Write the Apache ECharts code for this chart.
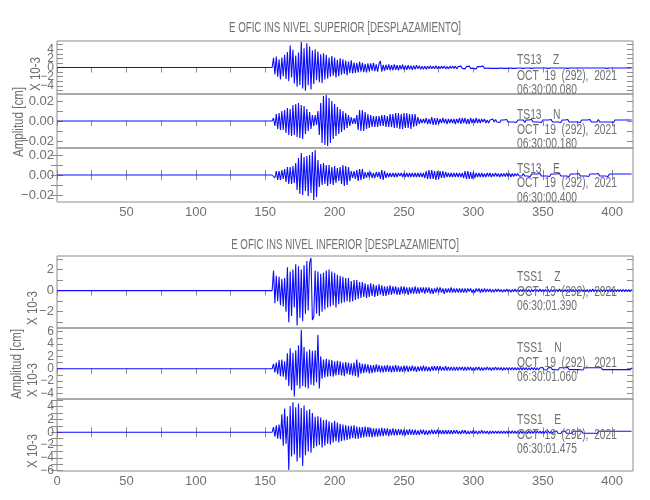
<!DOCTYPE html>
<html><head><meta charset="utf-8">
<script src="https://cdn.jsdelivr.net/npm/echarts@6/dist/echarts.min.js"></script>
<style>html,body{margin:0;padding:0;background:#fff}#c{width:650px;height:500px}</style>
</head><body><div id="c"></div>
<script>
// ---------- data ----------
const T0 = 155;          // first sample time (s); trace is flat (0) before it
const DT = 1;            // sample step (s)
const X_MIN = 0, X_MAX = 415;
const X_TICKS = [0,25,50,75,100,125,150,175,200,225,250,275,300,325,350,375,400];
const X_LABELS_UPPER = [50,100,150,200,250,300,350,400];
const X_LABELS_LOWER = [0,50,100,150,200,250,300,350,400];

const TITLES = ['E OFIC INS NIVEL SUPERIOR [DESPLAZAMIENTO]', 'E OFIC INS NIVEL INFERIOR [DESPLAZAMIENTO]'];
const STATIONS = ['TS13    Z','TS13    N','TS13    E','TSS1    Z','TSS1    N','TSS1    E'];
const DATES = ['OCT  19  (292),  2021','OCT  19  (292),  2021','OCT  19  (292),  2021','OCT  19  (292),  2021','OCT  19  (292),  2021','OCT  19  (292),  2021'];
const TIMES = ['06:30:00.080','06:30:00.180','06:30:00.400','06:30:01.390','06:30:01.060','06:30:01.475'];
const Y_UNIT_LABEL = 'X 10-3';
const Y_NAME = 'Amplitud [cm]';

// axis ranges and ticks per panel
const Y_RANGES = [[-5.8,5.8],[-0.027,0.027],[-0.027,0.027],[-3.55,3.28],[-4.9,6.6],[-6.07,5.2]];
const Y_TICKS = [
  [-5,-4,-3,-2,-1,0,1,2,3,4,5],
  [-0.02,-0.01,0,0.01,0.02],
  [-0.02,-0.01,0,0.01,0.02],
  [-3,-2,-1,0,1,2,3],
  [-4,-3,-2,-1,0,1,2,3,4,5,6],
  [-6,-5,-4,-3,-2,-1,0,1,2,3,4,5]
];
const Y_LABELS = [
  [-4,0,4],
  [-0.02,0,0.02],
  [-0.02,0,0.02],
  [-2,0,2],
  [-4,-2,0,2,4,6],
  [-6,-4,-2,0,2,4]
];
// labels of the top panel that sit between the others (drawn on an overlay axis)
const Y_LABELS_TOP_EXTRA = [-2,2];

// traces (upper Z and all lower: x10^-3 cm ; upper N, E: cm), one value per second from T0
const upperZ = [
 0,2.1,-1.5,2.4,-2.0,1.8,-2.6,2.2,-1.9,2.8,
 -2.5,3.4,-3.0,4.8,-2.2,3.9,-3.5,2.6,-4.2,3.3,
 -3.8,5.6,-4.6,4.2,-5.1,5.3,-3.9,4.6,-4.8,3.7,
 -3.6,4.0,-2.8,3.5,-3.2,2.9,-3.4,3.1,-2.6,2.8,
 -2.4,2.2,-2.0,2.5,-1.8,2.1,-2.2,1.7,-1.9,2.0,
 -1.6,1.8,-1.4,1.5,-1.7,1.3,-1.2,1.6,-1.3,1.1,
 -1.2,1.0,-1.1,1.3,-0.9,1.0,-1.0,0.8,-1.1,0.9,
 -0.8,0.9,-0.7,1.0,-0.8,0.7,-0.9,0.8,1.4,-0.9,
 0.6,-0.7,0.6,-0.5,0.7,-0.6,0.5,-0.6,0.7,-0.5,
 0.5,-0.6,0.5,-0.4,0.6,-0.5,0.4,-0.5,0.5,-0.4,
 0.4,-0.5,0.4,-0.4,0.5,-0.3,0.4,-0.4,0.3,-0.4,
 0.3,-0.4,0.3,-0.3,0.4,-0.3,0.3,-0.3,0.4,-0.3,
 0.3,-0.3,0.3,-0.2,0.3,-0.3,0.2,-0.3,0.3,-0.2,
 0.3,-0.2,0.3,-0.3,0.2,-0.2,0.3,-0.2,0.2,-0.3,
 0.2,-0.2,0.3,-0.2,0.2,-0.2,0.2,-0.3,0.2,-0.2,
 0.2,-0.2,0.3,-0.2,0.2,-0.1,0.2,-0.2,0.2,-0.2,
 0.2,-0.2,0.1,-0.2,0.2,-0.1,0.2,-0.2,0.1,-0.2,
 0.2,-0.1,0.2,-0.2,0.1,-0.2,0.2,-0.1,0.2,-0.1,
 0.1,-0.2,0.2,-0.1,0.2,-0.1,0.1,-0.2,0.1,-0.1,
 0.2,-0.1,0.1,-0.1,0.2,-0.1,0.1,-0.1,0.1,-0.2,
 0.1,-0.1,0.2,-0.1,0.1,-0.1,0.1,-0.1,0.2,-0.1,
 0.1,-0.1,0.1,-0.2,0.1,-0.1,0.1,-0.1,0.1,-0.1,
 0.2,-0.1,0.1,-0.1,0.1,-0.1,0.2,-0.1,0.1,-0.1,
 0.1,-0.1,0.1,-0.1,0.2,-0.1,0.1,-0.1,0.1,-0.1,
 0.1,-0.2,0.1,-0.1,0.1,-0.1,0.1,-0.1,0.1,-0.1,
 0.1,-0.1,0.1,-0.1,0.1,-0.1,0.1,-0.1,0.1,-0.1
];
const upperN = [
 0,0.003,-0.005,0.007,-0.008,0.008,-0.009,0.010,-0.009,0.011,
 -0.012,0.013,-0.014,0.012,-0.015,0.016,-0.014,0.017,-0.016,0.018,
 -0.017,0.016,-0.018,0.015,-0.013,0.012,-0.010,0.009,-0.008,0.006,
 -0.005,0.006,-0.004,0.010,-0.014,0.018,-0.022,0.025,-0.024,0.026,
 -0.025,0.023,-0.022,0.020,-0.018,0.017,-0.015,0.014,-0.013,0.012,
 -0.011,0.010,-0.009,0.008,-0.007,0.006,-0.005,0.004,-0.003,0.003,
 -0.003,0.006,-0.009,0.011,-0.010,0.011,-0.010,0.009,-0.008,0.007,
 -0.007,0.006,-0.006,0.005,-0.006,0.005,-0.006,0.005,-0.005,0.006,
 -0.005,0.006,-0.006,0.005,-0.006,0.007,-0.006,0.007,-0.007,0.008,
 -0.007,0.008,-0.008,0.007,-0.008,0.008,-0.007,0.008,-0.007,0.007,
 -0.008,0.007,-0.006,0.007,-0.005,0.004,-0.003,0.002,-0.002,0.002,
 -0.002,0.003,-0.003,0.002,-0.003,0.004,-0.004,0.003,-0.004,0.003,
 -0.003,0.002,-0.002,0.003,-0.002,0.002,-0.003,0.002,-0.002,0.002,
 -0.002,0.002,-0.003,0.002,-0.002,0.003,-0.003,0.003,-0.002,0.003,
 -0.003,0.002,-0.003,0.003,-0.002,0.002,-0.002,0.003,-0.002,0.002,
 -0.002,0.002,-0.001,0.002,-0.002,0.001,-0.002,0.001,-0.001,0.002,
 -0.001,0.0015,-0.001,0.001,-0.0015,0.001,-0.001,0.001,-0.001,0.0015,
 -0.001,0.001,-0.001,0.001,-0.001,0.001,-0.0015,0.001,-0.001,0.001,
 -0.001,0.001,-0.0015,0.001,-0.001,0.001,-0.001,0.0015,-0.001,0.001,
 -0.001,0.001,-0.001,0.001,-0.0015,0.001,-0.001,0.001,-0.001,0.001,
 -0.001,0.0015,-0.001,0.001,-0.001,0.001,-0.001,0.001,-0.0015,0.001,
 -0.001,0.001,-0.001,0.0015,-0.001,0.001,-0.001,0.001,-0.001,0.001,
 -0.001,0.001,-0.0015,0.001,-0.001,0.001,-0.001,0.001,-0.001,0.0015,
 -0.001,0.001,-0.001,0.001,-0.001,0.0015,-0.001,0.001,-0.001,0.001,
 -0.001,0.001,-0.001,0.001,-0.001,0.001,-0.0015,0.001,-0.001,0.001,
 -0.001,0.001,-0.001,0.001,-0.001,0.001,-0.001,0.001,-0.001,0.001
];
const upperE = [
 0,0.002,-0.003,0.004,-0.005,0.004,-0.005,0.005,-0.004,0.006,
 -0.007,0.008,-0.009,0.008,-0.009,0.009,-0.008,0.012,-0.015,0.017,
 -0.019,0.022,-0.020,0.018,-0.016,0.019,-0.021,0.020,-0.018,0.023,
 -0.025,0.025,-0.022,0.015,-0.012,0.011,-0.010,0.012,-0.009,0.010,
 -0.011,0.010,-0.009,0.008,-0.010,0.009,-0.008,0.007,-0.006,0.008,
 -0.009,0.010,-0.011,0.009,-0.010,0.008,-0.006,0.004,-0.003,0.004,
 -0.004,0.005,-0.006,0.006,-0.005,0.006,-0.004,0.003,-0.003,0.003,
 -0.002,0.003,-0.003,0.002,-0.003,0.003,-0.002,0.003,-0.004,0.005,
 -0.005,0.004,-0.003,0.002,-0.002,0.002,-0.002,0.002,-0.002,0.002,
 -0.002,0.002,-0.001,0.002,-0.002,0.002,-0.002,0.002,-0.002,0.002,
 -0.002,0.002,-0.002,0.002,-0.002,0.002,-0.002,0.002,-0.002,0.002,
 -0.003,0.004,-0.004,0.005,-0.004,0.005,-0.004,0.004,-0.005,0.004,
 -0.004,0.004,-0.003,0.004,-0.003,0.003,-0.002,0.002,-0.002,0.002,
 -0.002,0.002,-0.002,0.002,-0.002,0.002,-0.002,0.002,-0.003,0.004,
 -0.004,0.004,-0.004,0.003,-0.004,0.003,-0.003,0.002,-0.002,0.002,
 -0.002,0.002,-0.002,0.0015,-0.002,0.002,-0.0015,0.002,-0.002,0.0015,
 -0.0015,0.002,-0.0015,0.0015,-0.002,0.0015,-0.0015,0.0015,-0.0015,0.002,
 -0.0015,0.0015,-0.002,0.0015,-0.0015,0.0015,-0.001,0.0015,-0.001,0.001,
 -0.001,0.0015,-0.001,0.001,-0.001,0.001,-0.0015,0.001,-0.001,0.001,
 -0.001,0.001,-0.001,0.0015,-0.001,0.001,-0.001,0.001,-0.001,0.001,
 -0.0015,0.001,-0.001,0.001,-0.001,0.001,-0.001,0.0015,-0.001,0.001,
 -0.001,0.001,-0.001,0.001,-0.0015,0.001,-0.001,0.001,-0.001,0.001,
 -0.001,0.0015,-0.001,0.001,-0.001,0.001,-0.001,0.001,-0.0015,0.001,
 -0.001,0.001,-0.001,0.001,-0.001,0.0015,-0.001,0.001,-0.001,0.001,
 -0.001,0.001,-0.0015,0.001,-0.001,0.001,-0.001,0.001,-0.001,0.001,
 -0.001,0.001,-0.001,0.001,-0.001,0.001,-0.001,0.001,-0.001,0.001
];
const lowerZ = [
 0,1.9,-1.2,1.4,-1.0,1.3,-1.4,1.1,-1.5,1.2,
 -2.0,2.2,-3.0,1.8,-2.4,2.0,-1.6,2.5,-3.3,2.3,
 -2.6,2.0,-2.9,2.4,-2.2,2.8,-1.9,2.6,3.1,-2.8,
 -2.5,1.9,-2.2,1.8,-2.4,1.6,-2.0,1.7,-1.8,1.9,
 -1.6,2.0,-1.5,1.8,-1.4,1.7,-1.6,1.5,-1.3,1.4,
 -1.2,1.3,-1.1,1.2,-1.0,1.2,-1.1,0.9,-1.0,1.0,
 -0.9,1.0,-0.8,0.8,-0.7,0.8,-0.6,0.7,-0.7,0.6,
 -0.6,0.7,-0.5,0.6,-0.6,0.5,-0.5,0.6,-0.4,0.5,
 -0.5,0.4,-0.5,0.4,-0.4,0.5,-0.4,0.4,-0.3,0.4,
 -0.4,0.3,-0.4,0.4,-0.3,0.4,-0.3,0.3,-0.4,0.3,
 -0.3,0.3,-0.3,0.4,-0.3,0.3,-0.3,0.3,-0.2,0.3,
 -0.3,0.3,-0.2,0.3,-0.3,0.2,-0.3,0.2,-0.2,0.3,
 -0.2,0.3,-0.2,0.2,-0.3,0.2,-0.2,0.2,-0.2,0.3,
 -0.2,0.2,-0.2,0.2,-0.2,0.2,-0.2,0.2,-0.2,0.2,
 -0.2,0.2,-0.1,0.2,-0.2,0.1,-0.2,0.2,-0.1,0.2,
 -0.2,0.15,-0.15,0.2,-0.15,0.15,-0.1,0.15,-0.15,0.1,
 -0.15,0.15,-0.1,0.15,-0.1,0.1,-0.15,0.1,-0.1,0.15,
 -0.1,0.1,-0.15,0.1,-0.1,0.15,-0.1,0.1,-0.1,0.1,
 -0.1,0.15,-0.1,0.1,-0.1,0.1,-0.15,0.1,-0.1,0.1,
 -0.1,0.1,-0.1,0.15,-0.1,0.1,-0.1,0.1,-0.1,0.1,
 -0.15,0.1,-0.1,0.1,-0.1,0.1,-0.1,0.15,-0.1,0.1,
 -0.1,0.1,-0.1,0.1,-0.15,0.1,-0.1,0.1,-0.1,0.1,
 -0.1,0.1,-0.1,0.1,-0.1,0.1,-0.1,0.1,-0.15,0.1,
 -0.1,0.15,-0.1,0.1,-0.1,0.1,-0.1,0.1,-0.1,0.1,
 -0.1,0.1,-0.1,0.1,-0.1,0.15,-0.1,0.1,-0.1,0.1,
 -0.1,0.1,-0.1,0.1,-0.1,0.1,-0.1,0.1,-0.1,0.1
];
const lowerN = [
 0,0.8,-0.6,1.0,-0.9,1.4,-1.2,1.5,-1.3,1.2,
 -1.8,2.5,-2.8,3.3,-3.5,2.6,-4.5,3.0,-2.7,3.8,
 -3.2,6.3,-2.8,3.5,-3.0,2.8,-3.2,3.1,-2.6,2.9,
 -2.7,3.0,-2.2,5.5,-3.2,2.0,-1.6,1.5,-1.4,1.6,
 -1.3,1.5,-1.2,1.4,-1.3,1.2,-1.1,1.3,-1.0,1.2,
 -1.1,1.0,-1.2,1.1,-0.9,1.0,-1.0,0.9,-1.1,1.0,
 -1.2,1.5,-1.4,1.0,-0.8,0.8,-0.7,0.8,-0.6,0.7,
 -0.7,0.6,-0.7,0.6,-0.6,0.7,-0.5,0.6,-0.6,0.5,
 -0.6,0.5,-0.5,0.6,-0.5,0.5,-0.6,0.5,-0.5,0.6,
 -0.5,0.5,-0.5,0.4,-0.5,0.5,-0.4,0.5,-0.5,0.4,
 -0.4,0.5,-0.4,0.4,-0.5,0.4,-0.4,0.4,-0.4,0.5,
 -0.4,0.4,-0.4,0.3,-0.4,0.4,-0.3,0.4,-0.3,0.4,
 -0.3,0.4,-0.3,0.3,-0.3,0.4,-0.3,0.3,-0.3,0.3,
 -0.3,0.3,-0.3,0.3,-0.3,0.3,-0.2,0.3,-0.3,0.3,
 -0.3,0.3,-0.2,0.3,-0.3,0.2,-0.3,0.3,-0.2,0.3,
 -0.3,0.2,-0.3,0.2,-0.2,0.3,-0.2,0.2,-0.3,0.2,
 -0.2,0.3,-0.2,0.2,-0.2,0.2,-0.3,0.2,-0.2,0.2,
 -0.2,0.2,-0.2,0.2,-0.2,0.2,-0.2,0.2,-0.2,0.2,
 -0.2,0.2,-0.15,0.2,-0.2,0.15,-0.2,0.2,-0.15,0.2,
 -0.2,0.15,-0.2,0.15,-0.15,0.2,-0.15,0.15,-0.2,0.15,
 -0.15,0.2,-0.15,0.15,-0.15,0.15,-0.2,0.15,-0.15,0.15,
 -0.15,0.15,-0.15,0.2,-0.15,0.15,-0.15,0.15,-0.15,0.15,
 -0.15,0.15,-0.15,0.15,-0.2,0.15,-0.15,0.15,-0.15,0.15,
 -0.15,0.15,-0.15,0.15,-0.15,0.15,-0.15,0.2,-0.15,0.15,
 -0.15,0.15,-0.15,0.15,-0.15,0.15,-0.15,0.15,-0.15,0.15,
 -0.15,0.15,-0.15,0.15,-0.15,0.15,-0.15,0.15,-0.15,0.15
];
const lowerE = [
 0,0.8,-0.7,1.1,-1.0,1.2,-1.1,2.8,-2.1,3.7,
 -1.8,2.5,-5.9,4.1,-3.8,4.7,-3.5,3.9,-4.6,4.5,
 -4.0,3.8,-5.3,4.2,-3.6,3.4,-3.0,3.6,-3.2,3.0,
 -2.5,2.4,-2.2,2.5,-2.0,2.3,-2.4,1.9,-2.1,2.0,
 -1.8,1.7,-1.9,1.5,-1.6,1.8,-1.4,1.5,-1.6,1.3,
 -1.4,1.2,-1.3,1.1,-1.2,1.0,-1.1,1.0,-0.9,1.1,
 -1.0,0.9,-1.0,0.8,-0.9,0.8,-0.8,0.9,-0.7,0.8,
 -0.7,0.7,-0.8,0.6,-0.7,0.6,-0.7,0.6,-0.6,0.7,
 -0.6,0.6,-0.5,0.6,-0.6,0.5,-0.5,0.6,-0.5,0.5,
 -0.5,0.5,-0.4,0.5,-0.5,0.4,-0.5,0.4,-0.4,0.5,
 -0.4,0.4,-0.4,0.4,-0.4,0.3,-0.4,0.4,-0.3,0.4,
 -0.4,0.3,-0.4,0.3,-0.3,0.4,-0.3,0.3,-0.3,0.4,
 -0.3,0.3,-0.3,0.3,-0.3,0.3,-0.3,0.3,-0.3,0.3,
 -0.3,0.3,-0.2,0.3,-0.3,0.2,-0.3,0.3,-0.2,0.3,
 -0.3,0.2,-0.3,0.2,-0.2,0.3,-0.2,0.2,-0.3,0.2,
 -0.2,0.3,-0.2,0.2,-0.2,0.2,-0.3,0.2,-0.2,0.2,
 -0.2,0.2,-0.2,0.2,-0.2,0.2,-0.2,0.2,-0.2,0.2,
 -0.2,0.2,-0.2,0.25,-0.2,0.2,-0.2,0.2,-0.25,0.2,
 -0.2,0.2,-0.2,0.2,-0.2,0.2,-0.2,0.2,-0.2,0.2,
 -0.2,0.2,-0.15,0.2,-0.2,0.15,-0.2,0.2,-0.15,0.2,
 -0.2,0.15,-0.2,0.15,-0.15,0.2,-0.15,0.15,-0.2,0.15,
 -0.15,0.2,-0.15,0.15,-0.15,0.15,-0.2,0.15,-0.15,0.15,
 -0.15,0.15,-0.15,0.2,-0.15,0.15,-0.15,0.15,-0.15,0.15,
 -0.15,0.15,-0.15,0.15,-0.2,0.15,-0.15,0.15,-0.15,0.15,
 -0.15,0.15,-0.15,0.15,-0.15,0.15,-0.15,0.15,-0.15,0.15,
 -0.15,0.15,-0.15,0.15,-0.15,0.15,-0.15,0.15,-0.15,0.15
];
const TRACES = [upperZ, upperN, upperE, lowerZ, lowerN, lowerE];

// ---------- styling / layout ----------
const FONT_FAMILY = '"Liberation Sans",Arial,sans-serif';
const GRAY = '#707070';
const AXIS_GRAY = '#8c8c8c';
const TRACE_BLUE = '#0c0cff';
const GRIDS = [
  {top: 41, height: 53}, {top: 94, height: 54}, {top: 148, height: 54},
  {top: 256, height: 72}, {top: 328, height: 71}, {top: 399, height: 72}
];
const LEFT = 57, RIGHT = 17;
const LABEL_SIZES = [12, 13, 13, 13, 12, 12];

function fmtY(panel, v) {
  if (panel === 1 || panel === 2) {
    const s = Math.abs(v).toFixed(2);
    return v < -1e-9 ? '\u2212' + s : s;
  }
  return v < 0 ? '\u2212' + Math.abs(v) : String(v);
}
const labelCommon = (i) => ({show: true, interval: 0, showMinLabel: true, showMaxLabel: true, hideOverlap: false,
  color: GRAY, fontFamily: FONT_FAMILY, fontSize: LABEL_SIZES[i], margin: 3, formatter: (v) => fmtY(i, v)});

const grid = [], xAxis = [], yAxis = [], series = [];
GRIDS.forEach((g, i) => {
  grid.push({left: LEFT, right: RIGHT, top: g.top, height: g.height, show: true,
    borderColor: AXIS_GRAY, borderWidth: 1, backgroundColor: 'transparent'});
  const topIdx = xAxis.length;
  xAxis.push({type: 'value', gridIndex: i, position: 'top', min: X_MIN, max: X_MAX,
    axisLine: {show: false}, splitLine: {show: false},
    axisTick: {show: true, inside: true, length: 5, customValues: X_TICKS, lineStyle: {color: AXIS_GRAY}},
    axisLabel: {show: false}});
  if (i === 2 || i === 5) {
    xAxis.push({type: 'value', gridIndex: i, position: 'bottom', min: X_MIN, max: X_MAX,
      axisLine: {show: false}, splitLine: {show: false},
      axisTick: {show: true, inside: true, length: 5, customValues: X_TICKS, lineStyle: {color: AXIS_GRAY}},
      axisLabel: {show: true, customValues: i === 2 ? X_LABELS_UPPER : X_LABELS_LOWER, interval: 0,
        showMinLabel: true, showMaxLabel: true, hideOverlap: false,
        color: GRAY, fontFamily: FONT_FAMILY, fontSize: 13, margin: 4}});
  }
  const yl = yAxis.length;
  yAxis.push({type: 'value', gridIndex: i, position: 'left', min: Y_RANGES[i][0], max: Y_RANGES[i][1],
    axisLine: {show: false}, splitLine: {show: false},
    axisTick: {show: true, inside: true, length: 6, customValues: Y_TICKS[i], lineStyle: {color: AXIS_GRAY}},
    axisLabel: Object.assign(labelCommon(i), {customValues: Y_LABELS[i]})});
  yAxis.push({type: 'value', gridIndex: i, position: 'right', min: Y_RANGES[i][0], max: Y_RANGES[i][1],
    axisLine: {show: false}, splitLine: {show: false},
    axisTick: {show: true, inside: true, length: 6, customValues: Y_TICKS[i], lineStyle: {color: AXIS_GRAY}},
    axisLabel: {show: false}});
  const vals = TRACES[i];
  const data = [[X_MIN, 0]].concat(vals.map((v, k) => [T0 + k * DT, v]));
  series.push({type: 'line', xAxisIndex: topIdx, yAxisIndex: yl, data: data, showSymbol: false,
    symbol: 'none', sampling: null, lineStyle: {color: TRACE_BLUE, width: 1.1}, silent: true, z: 3});
});
// overlay grid on the top panel carrying the in-between labels (-2, 2)
{
  const gi = grid.length;
  grid.push({left: LEFT, right: RIGHT, top: GRIDS[0].top, height: GRIDS[0].height, show: false});
  xAxis.push({type: 'value', gridIndex: gi, min: X_MIN, max: X_MAX, show: false});
  yAxis.push({type: 'value', gridIndex: gi, position: 'left', min: Y_RANGES[0][0], max: Y_RANGES[0][1],
    axisLine: {show: false}, splitLine: {show: false}, axisTick: {show: false},
    axisLabel: Object.assign(labelCommon(0), {customValues: Y_LABELS_TOP_EXTRA})});
}

// text measuring to emulate the narrow plotting font
const mctx = document.createElement('canvas').getContext('2d');
function measure(t, size) { mctx.font = size + 'px ' + FONT_FAMILY; return mctx.measureText(t).width; }
const FS = 14;
const TEXT_SCALE = 100 / measure(DATES[0], FS);     // date line spans ~100px in the reference
const TITLE_SCALE = 232 / measure(TITLES[0], FS);   // title spans ~232px
const NAME_SCALE = 70 / measure(Y_NAME, FS);        // rotated axis name ~70px

const graphic = [];
const txt = (t, x, y, align, sx, rot) => ({type: 'text', x: x, y: y, z: 10, scaleX: sx, rotation: rot || 0,
  style: {text: t, textAlign: align, textVerticalAlign: 'middle', font: FS + 'px ' + FONT_FAMILY, fill: GRAY}});
graphic.push(txt(TITLES[0], 345, 28, 'center', TITLE_SCALE));
graphic.push(txt(TITLES[1], 345, 245, 'center', TITLE_SCALE));
const INFO_Y = [[60, 76, 90], [115, 130, 144], [169, 183, 198], [277, 292, 306], [348, 363, 377], [420, 435, 449]];
INFO_Y.forEach((ys, i) => {
  [STATIONS[i], DATES[i], TIMES[i]].forEach((t, k) => graphic.push(txt(t, 517, ys[k], 'left', TEXT_SCALE)));
});
[[36, 74, Y_UNIT_LABEL], [33, 308, Y_UNIT_LABEL], [33, 380, Y_UNIT_LABEL], [33, 451, Y_UNIT_LABEL]]
  .forEach(([x, y, t]) => graphic.push(txt(t, x, y, 'center', NAME_SCALE, Math.PI / 2)));
[[19, 122], [17, 364]].forEach(([x, y]) => graphic.push(txt(Y_NAME, x, y, 'center', NAME_SCALE, Math.PI / 2)));

const chart = echarts.init(document.getElementById('c'), null, {renderer: 'canvas'});
chart.setOption({animation: false, backgroundColor: '#ffffff', grid, xAxis, yAxis, series, graphic});
</script>
</body></html>
